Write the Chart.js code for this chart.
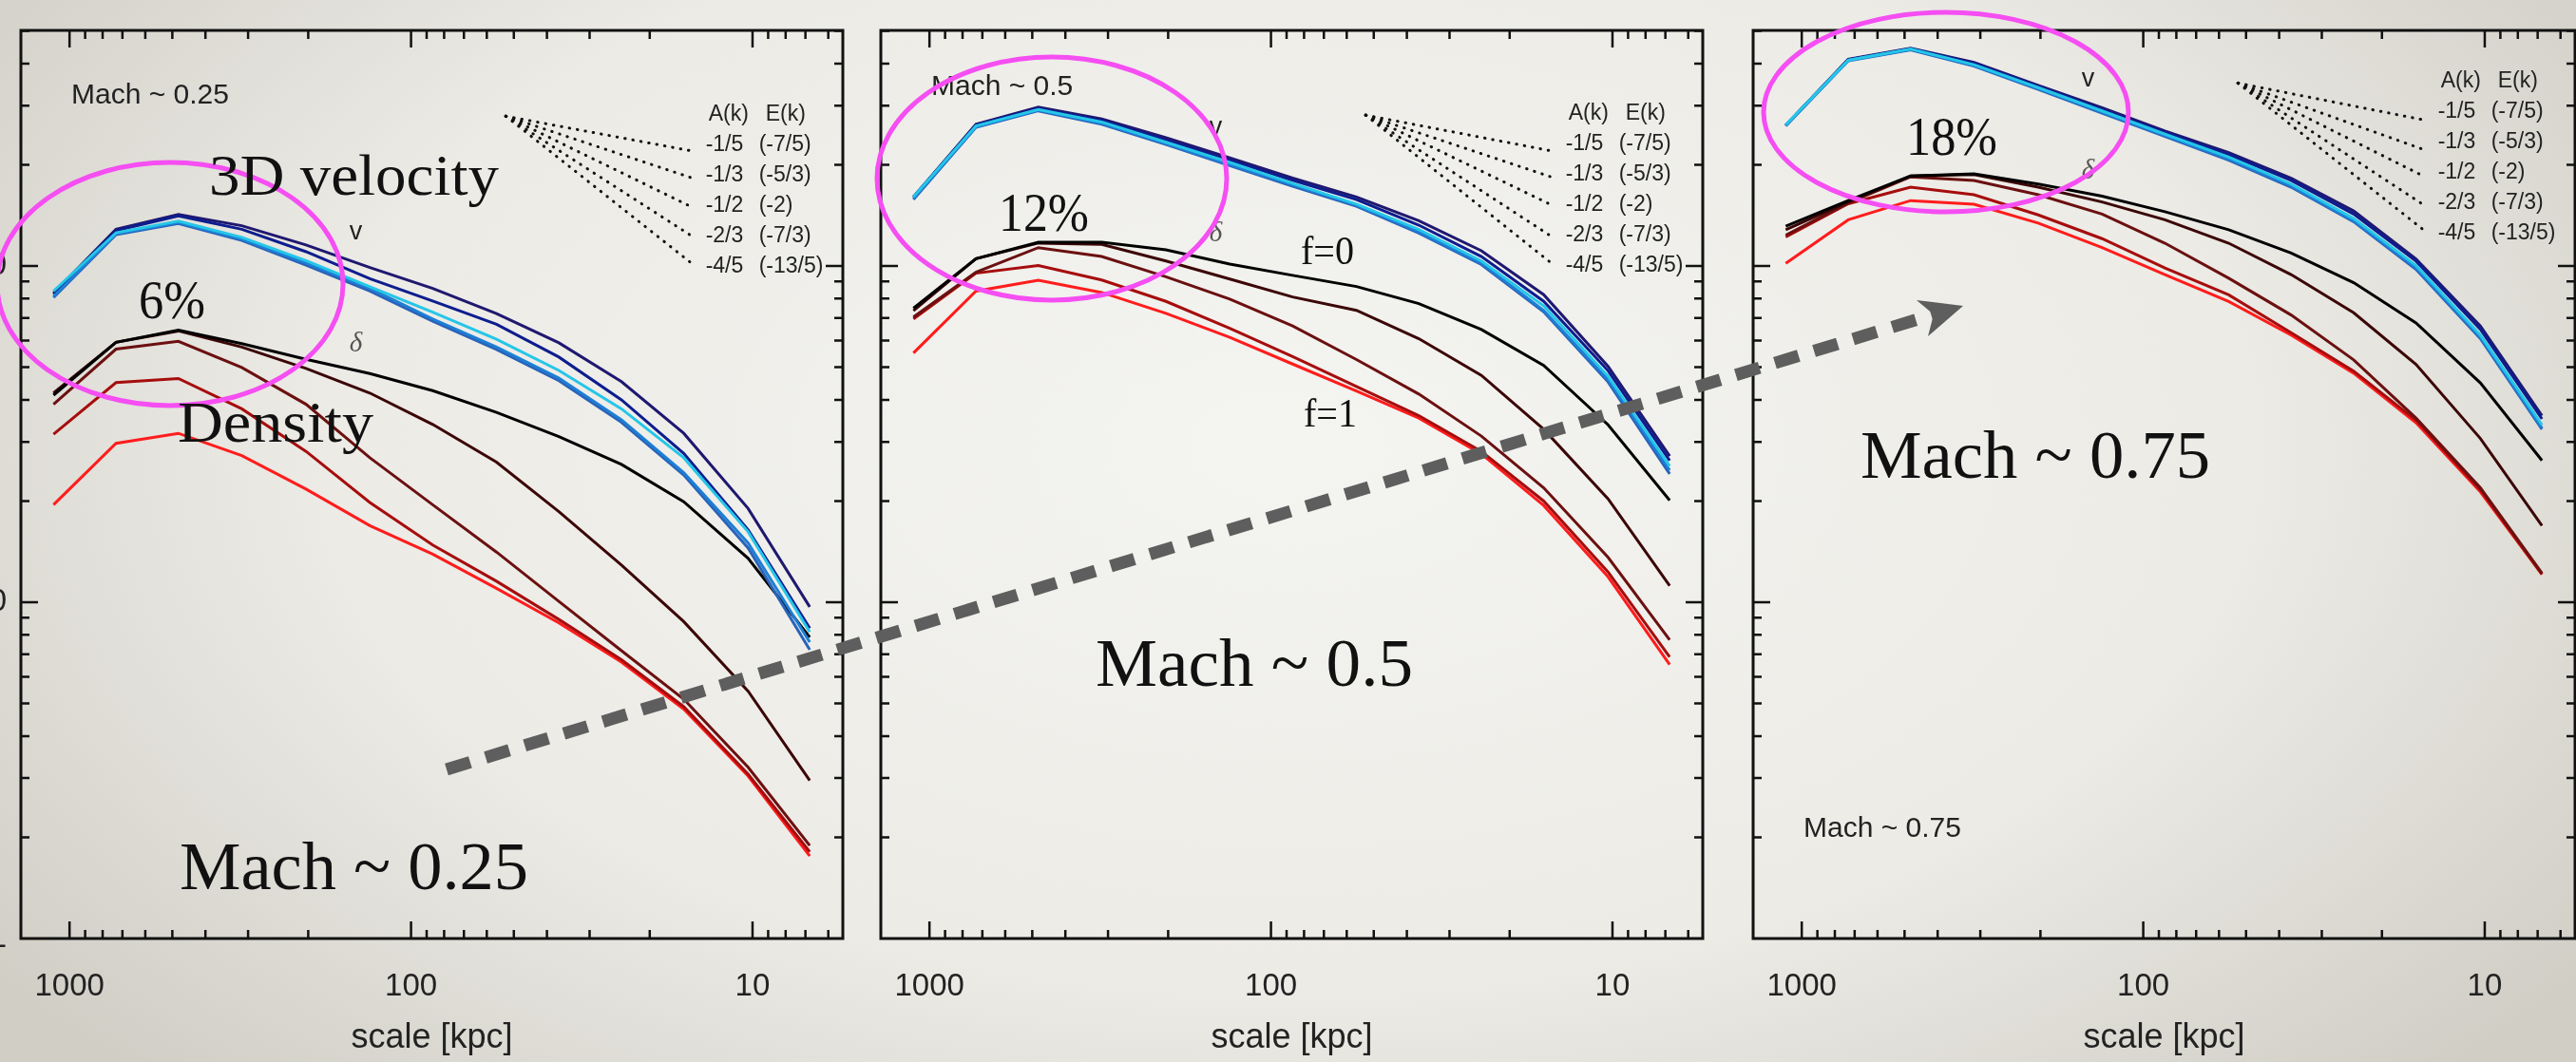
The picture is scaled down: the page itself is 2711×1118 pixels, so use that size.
<!DOCTYPE html>
<html>
<head>
<meta charset="utf-8">
<script src="https://cdn.jsdelivr.net/npm/chart.js@4.4.1/dist/chart.umd.min.js"></script>
<style>
html, body { margin: 0; padding: 0; width: 2711px; height: 1118px; overflow: hidden; }
body {
  position: relative;
  background: radial-gradient(ellipse 62% 85% at 50% 42%, #f4f4f1 0%, #ecebe6 60%, #d0cec5 100%);
}
.panel { position: absolute; top: 0; width: 960px; height: 1118px; }
#overlay { position: absolute; left: 0; top: 0; pointer-events: none; }
</style>
</head>
<body>
<div class="panel" style="left:-60px"><canvas id="m025"></canvas></div>
<div class="panel" style="left:845px"><canvas id="m05"></canvas></div>
<div class="panel" style="left:1763px"><canvas id="m075"></canvas></div>

<svg id="overlay" width="2711" height="1118" xmlns="http://www.w3.org/2000/svg">
  <g fill="none" stroke="#f54ef2" stroke-width="5">
    <ellipse cx="179" cy="299" rx="182" ry="128"/>
    <ellipse cx="1107" cy="188" rx="184" ry="128"/>
    <ellipse cx="2048" cy="118" rx="192" ry="105"/>
  </g>
  <line x1="470" y1="810" x2="2035" y2="331" stroke="#5e5e5e" stroke-width="13" stroke-dasharray="26 17"/>
  <polygon points="2066,322 2017,316 2035,331 2029,354" fill="#5e5e5e"/>
  <g font-family="'Liberation Serif', 'DejaVu Serif', serif" fill="#111">
    <text x="220" y="205" font-size="62" textLength="305" lengthAdjust="spacingAndGlyphs">3D velocity</text>
    <text x="146" y="335" font-size="58" textLength="70" lengthAdjust="spacingAndGlyphs">6%</text>
    <text x="187" y="465" font-size="62" textLength="206" lengthAdjust="spacingAndGlyphs">Density</text>
    <text x="189" y="936" font-size="72" textLength="367" lengthAdjust="spacingAndGlyphs">Mach ~ 0.25</text>
    <text x="1051" y="243" font-size="58" textLength="95" lengthAdjust="spacingAndGlyphs">12%</text>
    <text x="1369" y="278" font-size="42" textLength="56" lengthAdjust="spacingAndGlyphs">f=0</text>
    <text x="1372" y="449" font-size="42" textLength="56" lengthAdjust="spacingAndGlyphs">f=1</text>
    <text x="1153" y="722" font-size="72" textLength="334" lengthAdjust="spacingAndGlyphs">Mach ~ 0.5</text>
    <text x="2006" y="163" font-size="58" textLength="96" lengthAdjust="spacingAndGlyphs">18%</text>
    <text x="1958" y="503" font-size="72" textLength="368" lengthAdjust="spacingAndGlyphs">Mach ~ 0.75</text>
  </g>
</svg>

<script>
// scales in kpc (same for all three runs)
const scaleKpc = [1114, 731, 480, 313, 203, 132, 86.4, 56.2, 36.9, 24.2, 15.9, 10.3, 6.8]
const xTickLabels = [10, 100, 1000]
const yTickLabels = [1, 10, 100]

// Mach ~ 0.25
const m025Vel = [
  [83.1, 128.6, 142.3, 131.8, 115.5, 99.0, 85.8, 72.2, 59.1, 45.3, 31.8, 19.0, 9.69],
  [82.4, 127.4, 141.0, 128.6, 110.3, 91.7, 78.7, 67.1, 53.6, 40.0, 27.7, 16.4, 8.37],
  [84.2, 125.5, 135.9, 121.7, 103.7, 86.8, 72.9, 60.6, 48.9, 37.6, 26.9, 16.2, 8.16],
  [81.2, 124.7, 134.6, 120.2, 102.1, 85.8, 69.6, 57.4, 46.4, 34.9, 24.3, 15.0, 7.61],
  [80.6, 124.0, 133.8, 119.1, 100.6, 84.2, 68.5, 56.5, 45.6, 34.3, 23.9, 14.5, 7.22]
]
const m025Den = [
  [41.3, 59.3, 64.5, 58.8, 52.8, 47.9, 42.6, 36.7, 31.1, 25.7, 19.9, 13.5, 7.87],
  [41.9, 59.3, 64.1, 57.4, 49.6, 41.9, 33.8, 26.1, 18.6, 12.9, 8.76, 5.44, 2.95],
  [38.8, 56.6, 59.7, 49.9, 38.8, 26.9, 19.5, 14.1, 10.06, 7.18, 5.15, 3.23, 1.89],
  [31.6, 45.0, 46.3, 37.6, 28.1, 19.8, 14.8, 11.55, 8.89, 6.75, 4.89, 3.08, 1.81],
  [19.5, 29.7, 31.8, 27.3, 21.7, 16.9, 13.9, 11.0, 8.68, 6.64, 4.81, 3.04, 1.76]
]

// Mach ~ 0.5
const m05Vel = [
  [160.5, 263.9, 296.7, 273.8, 240.7, 209.7, 182.6, 160.5, 136.4, 111.0, 82.2, 50.3, 27.2],
  [160.0, 262.3, 293.9, 270.5, 237.0, 206.5, 179.8, 157.6, 132.3, 106.7, 78.5, 48.8, 26.4],
  [160.5, 260.8, 292.1, 268.1, 233.4, 203.3, 176.0, 152.8, 128.3, 103.5, 76.1, 47.0, 25.4],
  [158.6, 259.2, 291.2, 265.6, 231.3, 200.2, 174.4, 151.9, 126.3, 101.9, 73.8, 45.9, 24.7],
  [157.6, 258.4, 289.4, 263.9, 229.9, 198.9, 172.8, 150.5, 125.2, 101.0, 73.1, 45.2, 24.1]
]
const m05Den = [
  [74.9, 105.1, 117.7, 117.7, 111.7, 101.3, 93.8, 86.9, 77.3, 64.7, 50.6, 33.7, 20.1],
  [73.6, 105.1, 117.0, 115.9, 103.5, 91.5, 80.9, 73.8, 60.8, 47.3, 32.7, 20.3, 11.2],
  [70.5, 95.8, 113.4, 106.7, 92.9, 79.7, 66.3, 52.7, 41.6, 31.2, 21.9, 13.6, 7.73],
  [69.6, 95.2, 100.3, 90.9, 78.5, 65.3, 53.8, 43.8, 35.9, 28.1, 20.0, 12.3, 6.88],
  [55.1, 84.2, 90.7, 83.4, 72.3, 61.4, 51.1, 42.5, 35.3, 27.6, 19.4, 11.9, 6.53]
]

// Mach ~ 0.75
const m075Vel = [
  [262.1, 411.7, 444.4, 402.9, 344.5, 295.5, 251.9, 217.4, 182.5, 145.8, 105.0, 66.3, 35.9],
  [262.1, 410.4, 443.1, 400.4, 342.4, 291.9, 249.6, 214.7, 179.7, 142.7, 103.4, 64.8, 35.1],
  [262.9, 409.1, 441.8, 396.8, 339.3, 289.2, 246.6, 210.8, 175.3, 138.4, 100.3, 62.3, 33.7],
  [261.3, 409.1, 440.4, 394.4, 337.2, 286.6, 244.3, 208.2, 173.2, 136.3, 98.7, 61.4, 33.0],
  [261.3, 407.9, 439.1, 393.2, 335.1, 284.8, 242.8, 206.3, 171.6, 135.5, 97.8, 60.8, 32.7]
]
const m075Den = [
  [131.4, 156.5, 185.3, 188.1, 175.3, 161.4, 145.0, 128.2, 109.3, 89.2, 67.7, 44.9, 26.4],
  [128.2, 155.0, 185.3, 187.0, 171.6, 155.0, 137.2, 116.9, 94.3, 72.6, 51.0, 30.7, 16.9],
  [123.6, 154.1, 184.2, 179.7, 162.9, 142.7, 116.9, 92.0, 71.5, 52.6, 35.3, 21.9, 12.2],
  [122.0, 153.2, 171.6, 162.9, 141.9, 120.6, 98.7, 82.1, 63.3, 48.7, 34.8, 21.6, 12.1],
  [101.8, 137.2, 156.5, 152.7, 134.2, 113.4, 94.3, 78.4, 62.3, 48.0, 34.2, 21.3, 12.1]
]

// reference slopes (dotted fan): x from / to, y start, y ends
const fanX = [52.8, 15.1]
const fan025 = [279, 220, 183, 150, 123, 102]
const fan05 = [281, 220, 184, 152, 122.5, 102]
const fan075 = [350, 272, 222, 185, 152, 128]
const slopeA = ['-1/5', '-1/3', '-1/2', '-2/3', '-4/5']
const slopeE = ['(-7/5)', '(-5/3)', '(-2)', '(-7/3)', '(-13/5)']

const velColors = ['#1f1870', '#0d1d8e', '#25c6e8', '#1d7fd4', '#2a62b8']
const velOrder = [2, 1, -1, 0, 0]   // cyan drawn on top, as in the slide
const denColors = ['#000000', '#3b0606', '#6b1010', '#a60d0d', '#ff1c1c']

const SANS = '"Liberation Sans", Arial, Helvetica, sans-serif'
Chart.defaults.font.family = SANS

const panels = [
  { id: 'm025', vel: m025Vel, den: m025Den, fan: fan025, mach: 'Mach ~ 0.25', machY: 101,
    vLabel: [145, 125.6], dLabel: [145, 58.6], yLabels: true },
  { id: 'm05', vel: m05Vel, den: m05Den, fan: fan05, mach: 'Mach ~ 0.5', machY: 92,
    vLabel: [145, 258], dLabel: [145, 124.8], yLabels: false },
  { id: 'm075', vel: m075Vel, den: m075Den, fan: fan075, mach: 'Mach ~ 0.75', machY: 873,
    vLabel: [145, 358], dLabel: [145, 191], yLabels: false }
]

function curve(vals, color, order) {
  return {
    data: scaleKpc.map((x, i) => ({ x: x, y: vals[i] })),
    borderColor: color,
    borderWidth: 3,
    pointRadius: 0,
    tension: 0,
    fill: false,
    order: order
  }
}

function framePlugin(p) {
  return {
    id: 'frame',
    afterDraw(chart) {
      const { ctx, chartArea: a, scales: { x, y } } = chart
      ctx.save()
      ctx.strokeStyle = '#111'
      ctx.lineWidth = 3
      ctx.strokeRect(a.left, a.top, a.right - a.left, a.bottom - a.top)

      // inward log ticks on all four sides
      ctx.lineWidth = 2.5
      ctx.beginPath()
      for (const d of [1, 10, 100, 1000]) {
        for (let m = 1; m <= 9; m++) {
          const v = m * d
          const len = m === 1 ? 18 : 9
          if (v > x.min && v < x.max) {
            const px = x.getPixelForValue(v)
            ctx.moveTo(px, a.bottom); ctx.lineTo(px, a.bottom - len)
            ctx.moveTo(px, a.top); ctx.lineTo(px, a.top + len)
          }
          if (v > y.min && v < y.max) {
            const py = y.getPixelForValue(v)
            ctx.moveTo(a.left, py); ctx.lineTo(a.left + len, py)
            ctx.moveTo(a.right, py); ctx.lineTo(a.right - len, py)
          }
        }
      }
      ctx.stroke()

      ctx.fillStyle = '#222'
      ctx.textBaseline = 'middle'
      ctx.textAlign = 'left'
      ctx.font = '30px ' + SANS
      ctx.fillText(p.mach, a.left + 53, p.machY)

      ctx.textAlign = 'center'
      ctx.font = '27px ' + SANS
      ctx.fillText('v', x.getPixelForValue(p.vLabel[0]), y.getPixelForValue(p.vLabel[1]))
      ctx.fillStyle = '#555'
      ctx.font = 'italic 29px "Liberation Serif", serif'
      ctx.fillText('δ', x.getPixelForValue(p.dLabel[0]), y.getPixelForValue(p.dLabel[1]))

      // slope legend
      const ex = x.getPixelForValue(fanX[1])
      const hy = y.getPixelForValue(p.fan[0]) - 2
      ctx.fillStyle = '#222'
      ctx.textAlign = 'left'
      ctx.font = '23px ' + SANS
      ctx.fillText('A(k)', ex + 18, hy)
      ctx.fillText('E(k)', ex + 78, hy)
      slopeA.forEach((s, i) => {
        ctx.fillText(s, ex + 15, hy + 32 * (i + 1))
        ctx.fillText(slopeE[i], ex + 71, hy + 32 * (i + 1))
      })
      ctx.restore()
    }
  }
}

panels.forEach(p => {
  const datasets = []
  p.den.forEach((vals, i) => datasets.push(curve(vals, denColors[i], 1)))
  p.vel.forEach((vals, i) => datasets.push(curve(vals, velColors[i], velOrder[i])))
  p.fan.slice(1).forEach(yEnd => datasets.push({
    data: [{ x: fanX[0], y: p.fan[0] }, { x: fanX[1], y: yEnd }],
    borderColor: '#111',
    borderWidth: 3,
    borderDash: [0.5, 8],
    borderCapStyle: 'round',
    pointRadius: 0,
    order: 3
  }))

  new Chart(document.getElementById(p.id), {
    type: 'line',
    data: { datasets },
    options: {
      responsive: true,
      maintainAspectRatio: false,
      animation: false,
      layout: { padding: { top: 32, right: 13, left: 0, bottom: 0 } },
      plugins: { legend: { display: false }, tooltip: { enabled: false } },
      scales: {
        x: {
          type: 'logarithmic',
          reverse: true,
          min: 5.44,
          max: 1388,
          grid: { display: false, drawTicks: false },
          border: { display: false },
          afterBuildTicks: s => { s.ticks = xTickLabels.map(v => ({ value: v })) },
          afterFit: s => { s.height = 130; s.paddingLeft = 0; s.paddingRight = 0 },
          ticks: {
            callback: v => String(v),
            font: { size: 33 },
            color: '#222',
            padding: 31,
            maxRotation: 0,
            autoSkip: false
          },
          title: {
            display: true,
            text: 'scale [kpc]',
            font: { size: 36 },
            color: '#222',
            padding: { top: 0, bottom: 3 }
          }
        },
        y: {
          type: 'logarithmic',
          min: 1,
          max: 502,
          grid: { display: false, drawTicks: false },
          border: { display: false },
          afterBuildTicks: s => { s.ticks = yTickLabels.map(v => ({ value: v })) },
          afterFit: s => { s.width = 82; s.paddingTop = 0; s.paddingBottom = 0 },
          ticks: {
            display: p.yLabels,
            callback: v => String(v),
            font: { size: 33 },
            color: '#222',
            padding: 15
          }
        }
      }
    },
    plugins: [framePlugin(p)]
  })
})
</script>
</body>
</html>
